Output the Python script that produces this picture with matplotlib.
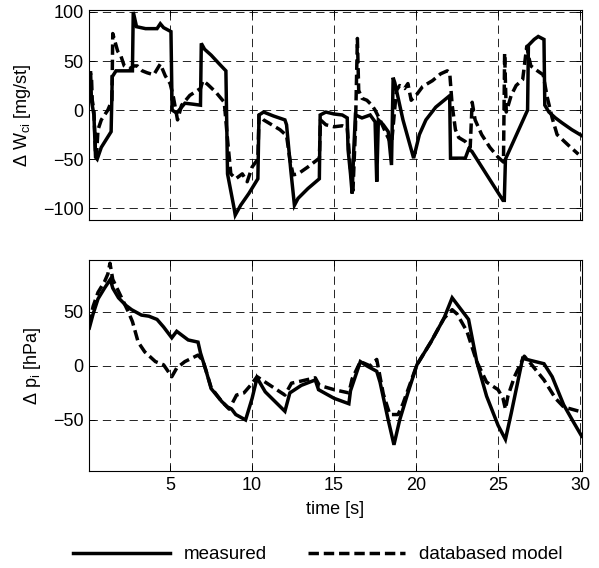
import matplotlib
matplotlib.use("Agg")
import matplotlib.pyplot as plt
from matplotlib.lines import Line2D

# --- top panel: delta W_ci [mg/st] -------------------------------------
wci_t_meas = [0.07, 0.15, 0.2, 0.35, 0.45, 0.55, 0.8, 1.1, 1.4, 1.47, 1.7, 2.2,
              2.7, 2.75, 2.95, 3.5, 4.2, 4.4, 4.6, 5.05, 5.12, 5.4, 5.9, 6.4,
              6.85, 6.9, 7.1, 7.5, 8.0, 8.4, 8.5, 8.9, 8.97, 9.3, 9.8, 10.35,
              10.42, 10.7, 11.3, 12.0, 12.1, 12.35, 12.58, 12.8, 13.4, 14.1,
              14.15, 14.5, 15.0, 15.5, 15.8, 15.85, 16.0, 16.1, 16.2, 16.3,
              16.7, 17.2, 17.5, 17.6, 17.7, 18.0, 18.3, 18.5, 18.6, 18.7, 19.2,
              19.85, 20.2, 20.6, 21.2, 22.0, 22.05, 22.1, 23.0, 23.2, 23.4,
              25.3, 25.38, 25.45, 26.8, 26.85, 27.2, 27.45, 27.8, 27.85, 28.1,
              28.5, 28.9, 29.5, 30.1]
wci_meas = [38, 38, 10, -5, -48, -50, -38, -30, -22, 34, 40, 40,
            40, 100, 85, 83, 83, 88, 84, 80, 0, -3, 7, 6,
            5, 68, 62, 56, 47, 40, -65, -100, -107, -97, -85, -70,
            -5, -2, -6, -10, -15, -60, -97, -90, -80, -70,
            -5, -2, -4, -5, -8, -40, -65, -85, -40, -5,
            -8, -5, -12, -73, -10, -15, -22, -56, 33, 28, -10,
            -49, -25, -10, 3, 14, 12, -49, -49, -40, -42,
            -92, -92, -50, 0, 66, 72, 75, 72, 5, -2,
            -8, -13, -20, -26]

wci_t_model = [0.07, 0.12, 0.2, 0.25, 0.35, 0.45, 0.5, 0.6, 0.8, 1.2, 1.45, 1.5,
               1.6, 1.8, 2.0, 2.2, 2.5, 2.8, 3.0, 3.3, 3.6, 4.0, 4.4, 4.7,
               5.0, 5.2, 5.45, 5.7, 6.2, 6.85, 7.0, 7.3, 7.8, 8.3, 8.5, 8.7,
               9.0, 9.4, 9.7, 10.0, 10.35, 10.42, 10.7, 11.2, 11.7, 12.1, 12.3,
               12.5, 12.8, 13.4, 14.1, 14.17, 14.5, 15.0, 15.5, 15.8, 16.0,
               16.15, 16.3, 16.42, 16.5, 16.7, 17.0, 17.3, 17.5, 17.8, 18.2,
               18.5, 18.8, 19.0, 19.3, 19.5, 19.7, 20.0, 20.4, 21.0, 21.5, 21.9,
               22.05, 22.2, 22.4, 22.6, 23.0, 23.3, 23.42, 23.6, 24.0, 24.5,
               25.0, 25.33, 25.4, 25.5, 25.8, 26.1, 26.5, 26.75, 26.9, 27.0,
               27.4, 27.75, 28.0, 28.3, 28.6, 29.3, 29.9]
wci_model = [30, 38, 35, 10, 0, -45, -48, -20, -10, 0, 10, 78,
             72, 60, 55, 45, 42, 45, 45, 40, 38, 36, 47, 35,
             27, 13, -10, 5, 15, 22, 30, 26, 18, 8, -30, -65,
             -70, -65, -73, -58, -50, -5, -10, -15, -20, -26, -50,
             -66, -65, -58, -49, -10, -15, -17, -16, -18, -60,
             -82, -20, 73, 20, 12, 10, 5, 0, -10, -25,
             -35, 20, 25, 22, 27, 10, 15, 24, 30, 37, 40,
             38, 5, -20, -28, -32, -38, 8, -10, -25, -38,
             -48, -53, 58, -2, 15, 25, 31, 65, 52, 45,
             40, 36, 13, -8, -25, -36, -45]

# --- bottom panel: delta p_i [hPa] -------------------------------------
pi_t_meas = [0.07, 0.3, 0.6, 1.0, 1.35, 1.5, 1.85, 2.3, 2.65, 3.25, 3.7, 4.2,
             4.6, 5.1, 5.4, 6.1, 6.7, 6.85, 7.2, 7.5, 8.15, 8.5, 8.75, 9.0,
             9.6, 10.0, 10.3, 10.8, 11.4, 12.0, 12.3, 13.0, 13.85, 14.05, 15.0,
             15.9, 16.0, 16.6, 17.0, 17.6, 17.8, 18.3, 18.65, 19.0, 19.5,
             20.05, 20.9, 21.7, 22.2, 23.2, 23.7, 24.3, 25.0, 25.45, 25.8,
             26.5, 27.0, 27.8, 28.3, 29.0, 29.6, 30.1]
pi_meas = [35, 48, 62, 72, 80, 72, 63, 56, 52, 47, 46, 43,
           36, 26, 32, 24, 22, 12, -5, -21, -33, -38, -40, -45,
           -50, -30, -11, -24, -33, -42, -25, -18, -13, -22, -30,
           -35, -23, 4, 0, -5, -15, -50, -73, -50, -25,
           1, 22, 44, 63, 43, 4, -28, -55, -68, -44,
           7, 5, 2, -10, -36, -52, -65]

pi_t_model = [0.07, 0.3, 0.6, 1.0, 1.2, 1.33, 1.5, 1.85, 2.45, 2.7, 3.05, 3.45,
              4.1, 4.6, 5.1, 5.4, 5.9, 6.7, 7.0, 7.5, 8.15, 8.6, 9.05, 9.5,
              9.9, 10.3, 11.0, 12.0, 12.4, 13.0, 13.85, 14.1, 15.0, 15.9, 16.1,
              16.6, 17.2, 17.6, 17.8, 18.0, 18.4, 18.9, 19.2, 20.05, 20.9,
              21.7, 22.2, 22.5, 23.1, 23.7, 24.3, 25.0, 25.3, 25.45, 25.6,
              26.0, 26.6, 27.0, 27.8, 28.5, 29.0, 29.95]
pi_model = [38, 55, 68, 78, 85, 95, 80, 69, 50, 41, 22, 13,
            4, 1, -10, -2, 4, 10, 5, -20, -33, -40, -27, -25,
            -18, -10, -17, -27, -16, -14, -11, -18, -22, -25, -12,
            4, 0, 6, -10, -26, -45, -45, -35, 1, 22,
            44, 52, 48, 32, 4, -15, -22, -30, -40, -28,
            -10, 9, 2, -13, -30, -38, -42]

x_ticks = [5, 10, 15, 20, 25, 30]
wci_ticks = [-100, -50, 0, 50, 100]
pi_ticks = [-50, 0, 50]
legend_labels = ["measured", "databased model"]

plt.rcParams["font.family"] = ["Liberation Sans", "DejaVu Sans"]
plt.rcParams["font.size"] = 13
plt.rcParams["mathtext.default"] = "regular"
plt.rcParams["mathtext.fontset"] = "custom"
plt.rcParams["mathtext.rm"] = "Liberation Sans"

LW = 2.5
DASH = (0, (3.0, 1.4))
grid_kw = dict(color="black", linestyle=(0, (10, 6)), linewidth=0.6)

fig = plt.figure(figsize=(5.99, 5.68), dpi=100)
ax_w = fig.add_axes([0.1491, 0.6127, 0.822, 0.3697])
ax_p = fig.add_axes([0.1491, 0.1699, 0.822, 0.3724])

ax_w.plot(wci_t_meas, wci_meas, color="black", lw=LW, solid_joinstyle="miter")
ax_w.plot(wci_t_model, wci_model, color="black", lw=LW, linestyle=DASH)
ax_p.plot(pi_t_meas, pi_meas, color="black", lw=LW, solid_joinstyle="miter")
ax_p.plot(pi_t_model, pi_model, color="black", lw=LW, linestyle=DASH)

for ax in (ax_w, ax_p):
    ax.set_xlim(0.07, 30.1)
    ax.set_xticks(x_ticks)
    ax.grid(True, **grid_kw)
    ax.tick_params(direction="in", length=4, width=0.7, top=True, right=True,
                   labelsize=13, pad=4)
    for sp in ax.spines.values():
        sp.set_linewidth(0.8)

ax_w.set_ylim(-112, 102)
ax_w.set_yticks(wci_ticks)
ax_w.tick_params(labelbottom=False)
ax_w.set_ylabel(r"$\Delta$ W$_{ci}$ [mg/st]")
ax_w.yaxis.set_label_coords(-0.114, 0.5)

ax_p.set_ylim(-97.7, 98)
ax_p.set_yticks(pi_ticks)
ax_p.set_ylabel(r"$\Delta$ p$_{i}$ [hPa]")
ax_p.yaxis.set_label_coords(-0.094, 0.5)
ax_p.set_xlabel("time [s]", labelpad=5)

handles = [Line2D([], [], color="black", lw=LW),
           Line2D([], [], color="black", lw=LW, linestyle=DASH)]
fig.legend(handles, legend_labels, loc="center", bbox_to_anchor=(0.53, 0.023),
           ncol=2, frameon=False, handlelength=5.2, handletextpad=0.7,
           columnspacing=2.2, fontsize=13.5)

fig.savefig("out.png", dpi=100)
